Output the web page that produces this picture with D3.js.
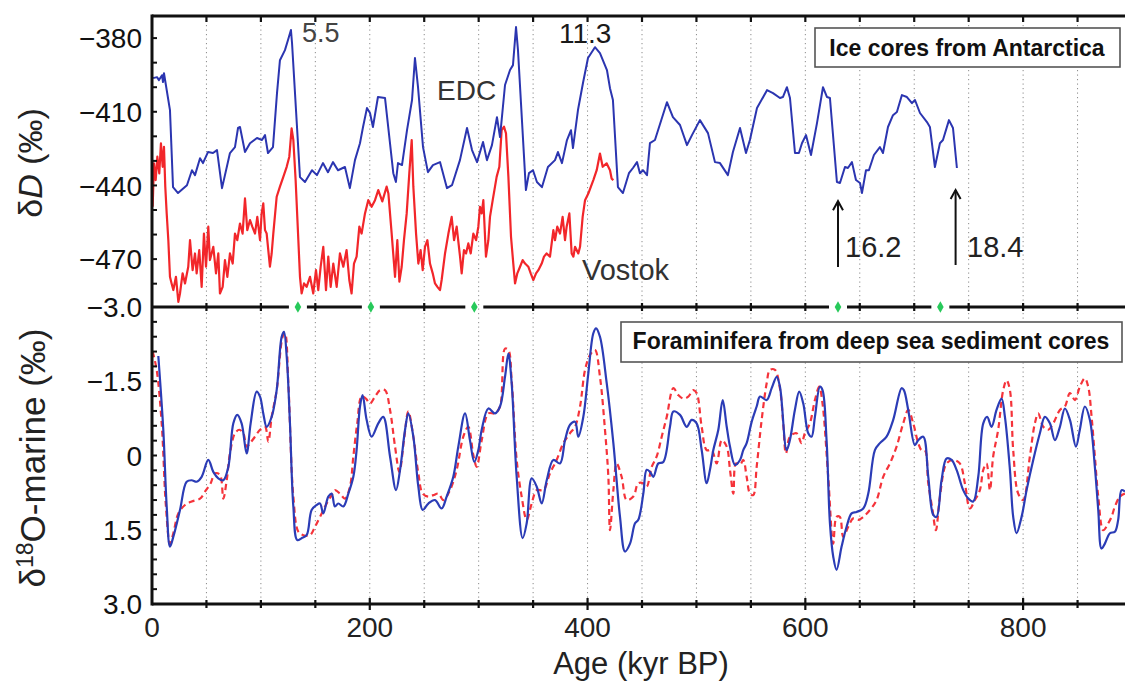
<!DOCTYPE html>
<html><head><meta charset="utf-8">
<script src="https://cdn.jsdelivr.net/npm/d3@7"></script>
<style>html,body{margin:0;padding:0;background:#fff;overflow:hidden}</style>
</head><body><svg id="c" width="1125" height="681"></svg>
<script>
// ---------- DATA ----------
const ageTicks = [0, 200, 400, 600, 800];
const topTicks = [-380, -410, -440, -470];
const botTicks = [-3, -1.5, 0, 1.5, 3];
const botTickLabels = ["\u22123.0", "\u22121.5", "0", "1.5", "3.0"];
const markerAges = [134, 201, 296, 630, 724];

// EDC deuterium (age kyr, δD ‰)
const edc = [[1,-396.3],[4.6,-395.9],[6.4,-397.1],[9.2,-395.1],[10.1,-397.9],[11,-394.3],[16.5,-409.3],[19.3,-440.7],[23.9,-443.1],[32.1,-439.9],[36.7,-433.8],[39.5,-435.8],[44.1,-428.9],[46.8,-430.9],[51.4,-426.4],[56,-426.8],[59.7,-425.6],[64.3,-441.1],[71.6,-426.8],[76.2,-424.4],[79,-416.6],[80.8,-416.2],[85.4,-426.4],[90,-422.8],[96.4,-420.7],[101,-421.5],[103.8,-419.5],[106.5,-426.8],[111.1,-424.4],[114.8,-402.4],[117.5,-389],[122.1,-384.9],[124.9,-380.8],[127.6,-376.7],[128.6,-382],[135.9,-436.6],[140.5,-438.6],[146.9,-433.8],[151.5,-435.8],[157,-430.9],[161.6,-434.6],[166.2,-430.5],[170.8,-433.8],[177.2,-432.5],[181.7,-441.1],[186.4,-429.7],[191,-422.8],[193.8,-416.2],[197.4,-408.5],[200.2,-410.5],[202.9,-416.2],[207.5,-404],[214,-404.4],[221.6,-435],[224,-438.6],[225.9,-430.9],[229.6,-431.7],[234.2,-417.5],[238.8,-405.2],[241.5,-388.1],[244.3,-400],[248.9,-424.4],[253.4,-434.6],[258,-431.7],[264.5,-430.5],[270.9,-441.1],[275.5,-439.9],[282.8,-429.7],[289.3,-416.6],[293.9,-425.6],[298.5,-430.5],[304,-422.3],[307.6,-429.7],[312.2,-423.6],[316.8,-412.2],[319.6,-420.3],[324.2,-399.1],[328.8,-393],[331.5,-391],[334.3,-375.5],[336.1,-384.9],[343.4,-441.9],[346.2,-435],[349.9,-433.8],[353.5,-438.6],[358.1,-440.7],[363.6,-432.5],[370.1,-429.7],[372.8,-426.4],[376.5,-430.9],[381.1,-421.5],[384.8,-417.5],[386.6,-424.8],[391.2,-409.3],[395.8,-398.3],[400.4,-388.1],[406.8,-383.7],[411.4,-386.1],[417.8,-393],[420.6,-400.4],[423.3,-405.2],[427.9,-440.7],[432.5,-443.1],[438,-435],[441.7,-432.9],[445.4,-430.5],[448.1,-435],[450.9,-433.8],[454.6,-435.8],[457.3,-422.8],[461.9,-421.5],[472.9,-406.1],[478.4,-412.2],[484.9,-415.4],[491.3,-423.6],[495.9,-419.5],[503.2,-413.4],[510.6,-418.7],[517,-430.5],[521.6,-430.9],[528.9,-435.8],[533.5,-426.4],[540,-416.6],[545.5,-426.8],[549.1,-421.5],[555.6,-408.5],[564.8,-401.2],[570.3,-402.4],[576.7,-404.4],[579.4,-404],[583.1,-400],[585.9,-404.4],[590.5,-426.8],[594.1,-426.8],[596.9,-422.8],[600.6,-419.5],[605.2,-427.6],[610.7,-414.6],[616.2,-400],[619.9,-404],[622.6,-404.4],[629,-438.6],[631.8,-439],[636.4,-432.5],[639.1,-432.9],[642.8,-430.5],[646.5,-437.8],[650.2,-439],[652,-443.1],[655.7,-433.8],[658.4,-433.8],[663,-427.6],[668.5,-424.4],[671.3,-426.8],[675.9,-416.2],[680.5,-411.4],[684.1,-410.1],[688.7,-403.2],[693.3,-404],[697.9,-406.5],[700.7,-405.2],[705.3,-410.5],[711.7,-414.2],[714.4,-416.2],[719,-432.5],[723.6,-422.8],[726.4,-421.5],[731.9,-413.4],[735.6,-416.6],[739.2,-432.9]];

// Vostok deuterium (age kyr, δD ‰)
const vostok = [[0.6,-448.7],[1.8,-431.0],[3.4,-437.8],[4.9,-428.3],[6.7,-435.1],[8.2,-422.9],[9.8,-432.4],[11.0,-424.3],[12.2,-440.5],[13.5,-451.4],[15.0,-462.3],[16.5,-477.2],[18.0,-479.9],[19.6,-482.6],[22.0,-477.2],[24.2,-487.4],[25.7,-484.0],[28.1,-475.8],[30.3,-479.9],[33.3,-473.1],[34.9,-462.3],[37.3,-474.5],[39.5,-467.7],[41.0,-475.8],[43.4,-466.3],[45.6,-481.3],[47.7,-459.6],[49.6,-473.1],[51.7,-456.8],[53.2,-470.4],[56.3,-465.0],[58.8,-475.8],[60.9,-467.7],[62.4,-484.0],[64.9,-481.3],[67.0,-470.4],[69.2,-477.2],[71.6,-467.7],[74.1,-471.8],[76.2,-459.6],[78.3,-462.3],[80.8,-455.5],[83.2,-459.6],[85.4,-445.3],[87.5,-458.2],[90.0,-454.1],[92.1,-456.8],[94.6,-459.6],[96.7,-452.8],[99.2,-462.3],[100.7,-451.4],[102.2,-447.3],[103.8,-458.2],[105.3,-459.6],[108.3,-473.1],[109.9,-467.7],[111.4,-459.6],[114.5,-444.6],[117.5,-440.5],[120.6,-436.5],[123.7,-432.4],[126.1,-428.3],[128.2,-416.8],[129.8,-421.5],[131.9,-437.8],[134.4,-462.3],[135.9,-477.2],[137.4,-484.0],[139.6,-479.9],[142.0,-481.3],[145.1,-477.2],[148.1,-484.0],[150.6,-474.5],[152.7,-482.6],[154.9,-473.1],[157.3,-465.0],[159.8,-482.6],[161.9,-469.0],[164.1,-481.3],[166.5,-471.8],[169.6,-481.3],[172.6,-467.7],[175.7,-473.1],[178.7,-466.3],[181.2,-478.5],[183.3,-484.0],[185.5,-471.8],[187.9,-469.0],[190.4,-456.8],[192.5,-459.6],[195.6,-451.4],[198.6,-446.0],[201.7,-448.7],[204.8,-446.0],[207.8,-441.9],[211.5,-446.5],[215.5,-440.5],[217.1,-443.3],[220.1,-459.6],[223.2,-477.2],[225.3,-462.3],[227.2,-479.2],[229.3,-473.1],[231.4,-462.3],[233.9,-451.4],[236.3,-435.1],[238.5,-421.5],[240.0,-440.5],[242.5,-459.6],[244.6,-471.8],[246.7,-466.3],[248.6,-474.5],[250.7,-465.0],[252.9,-462.3],[255.3,-471.8],[257.8,-475.8],[259.9,-479.9],[262.1,-481.3],[264.5,-482.6],[266.0,-478.5],[269.1,-467.7],[272.2,-459.6],[275.2,-452.8],[277.4,-462.3],[279.8,-456.8],[282.9,-469.0],[284.4,-475.8],[286.5,-466.3],[288.4,-467.7],[290.5,-463.6],[292.7,-467.7],[295.1,-459.6],[297.6,-462.3],[299.7,-456.8],[301.2,-448.7],[302.8,-451.4],[304.3,-446.0],[306.7,-469.0],[308.9,-462.3],[310.4,-452.8],[312.9,-446.0],[315.0,-440.5],[316.5,-436.5],[319.0,-432.4],[321.1,-417.5],[323.3,-416.1],[325.1,-418.8],[327.3,-436.5],[329.7,-460.9],[331.8,-471.8],[333.4,-479.9],[335.5,-475.8],[338.0,-473.1],[340.4,-470.4],[342.6,-471.8],[345.6,-473.1],[347.8,-475.8],[350.2,-478.5],[352.7,-475.8],[354.8,-474.5],[357.9,-471.8],[360.0,-469.0],[362.4,-467.7],[365.5,-469.0],[368.6,-458.2],[370.1,-462.3],[372.2,-456.8],[374.7,-459.6],[377.1,-452.8],[379.3,-462.3],[380.8,-456.8],[383.3,-451.4],[385.4,-467.7],[387.0,-469.0],[388.5,-465.0],[391.5,-467.7],[393.1,-465.0],[395.5,-452.8],[397.7,-446.0],[400.7,-443.3],[405.3,-437.8],[408.4,-433.8],[411.4,-427.0],[413.9,-432.4],[417.5,-431.0],[420.6,-433.8],[422.1,-437.2],[423.7,-437.8]];

// Marine δ18O, solid blue (age kyr, ‰)
const marineBlue = [[5.8,-2.01],[10.4,-0.51],[13.5,1.03],[16.5,1.84],[19.6,1.64],[25.7,1.10],[31.8,0.53],[36.4,0.50],[41.0,0.53],[45.6,0.43],[51.7,0.09],[56.3,0.33],[60.9,0.46],[65.5,0.50],[70.1,0.23],[74.7,-0.65],[78.3,-0.82],[82.3,-0.65],[86.9,-0.04],[90.6,-0.65],[96.1,-1.29],[99.2,-1.19],[102.2,-0.85],[105.3,-0.58],[109.9,-0.78],[114.5,-1.32],[119.1,-2.40],[121.2,-2.50],[123.7,-2.00],[126.7,-0.65],[129.8,1.03],[133.4,1.71],[137.4,1.67],[142.0,1.61],[146.6,1.10],[151.2,1.00],[154.3,0.97],[157.3,1.17],[161.9,0.83],[165.0,0.77],[168.0,1.03],[171.1,0.97],[175.7,1.03],[180.3,0.77],[184.9,0.43],[187.9,-0.11],[191.0,-0.99],[193.4,-1.22],[197.1,-0.72],[201.7,-0.38],[207.8,-0.65],[212.4,-0.78],[218.6,0.02],[224.1,0.70],[227.8,0.29],[232.4,-0.52],[235.4,-0.85],[240.0,-0.38],[244.6,0.63],[248.6,1.10],[253.8,0.97],[259.9,0.90],[266.0,1.07],[270.6,0.83],[276.7,0.43],[281.3,-0.18],[287.5,-0.85],[292.0,-0.31],[296.0,0.13],[299.7,-0.11],[302.8,-0.52],[308.9,-0.95],[315.0,-0.85],[319.6,-0.99],[324.2,-1.59],[327.3,-2.06],[330.3,-1.46],[334.9,0.43],[340.4,1.67],[344.1,1.37],[348.7,0.46],[353.3,0.63],[357.9,0.97],[362.5,0.50],[368.6,0.09],[374.7,0.16],[379.3,-0.31],[383.9,-0.62],[388.5,-0.68],[391.5,-0.38],[396.1,-0.78],[400.7,-1.66],[405.3,-2.47],[407.8,-2.57],[411.4,-2.40],[417.6,-1.46],[423.7,-0.25],[429.8,1.24],[434.4,1.94],[439.0,1.78],[443.6,1.37],[446.6,1.30],[451.2,0.77],[454.3,0.29],[457.3,0.33],[460.4,0.43],[465.0,0.16],[469.6,0.13],[475.7,-0.58],[478.8,-0.89],[484.9,-0.82],[491.0,-0.58],[495.6,-0.72],[500.2,-0.65],[504.8,-0.11],[509.4,0.56],[512.4,0.29],[515.5,-0.11],[520.1,-0.52],[524.1,-1.12],[527.8,-0.58],[530.8,-0.18],[535.4,0.19],[540.0,0.09],[543.0,-0.11],[546.1,-0.25],[550.7,-0.68],[555.3,-0.99],[558.4,-1.19],[564.5,-1.12],[569.1,-1.36],[573.7,-1.59],[576.7,-1.39],[582.8,-0.11],[585.8,-0.31],[590.4,-0.92],[594.4,-1.29],[598.1,-1.05],[602.7,-0.45],[605.7,-0.38],[608.8,-0.78],[613.4,-1.39],[615.8,-1.32],[619.5,-0.31],[622.6,1.37],[625.6,2.04],[628.7,2.31],[633.3,1.84],[637.9,1.44],[642.5,1.17],[647.1,1.14],[653.2,1.07],[657.8,0.77],[663.9,-0.11],[668.5,-0.25],[674.6,-0.38],[680.7,-0.72],[688.4,-1.36],[690.5,-1.32],[694.5,-0.92],[700.6,-0.21],[703.7,-0.31],[708.3,-0.38],[712.9,0.43],[717.5,1.20],[720.5,1.24],[725.1,0.50],[729.7,0.06],[734.3,0.09],[738.9,0.29],[745.0,0.70],[749.6,0.87],[754.2,0.93],[758.8,0.43],[763.4,-0.65],[767.0,-0.78],[771.0,-0.58],[775.6,-0.92],[780.2,-1.15],[783.3,-0.78],[787.9,0.29],[790.9,1.24],[794.0,1.57],[798.6,1.24],[803.2,0.70],[809.3,0.09],[815.4,-0.45],[820.0,-0.78],[824.6,-0.65],[829.2,-0.31],[833.8,-0.58],[838.4,-0.95],[843.0,-0.72],[848.5,-0.18],[852.1,-0.52],[856.7,-0.99],[861.3,-0.72],[865.9,0.23],[869.0,1.10],[872.0,1.88],[875.1,1.78],[879.7,1.57],[884.3,1.54],[887.3,1.30],[890.4,0.70],[893.5,0.73]];

// Marine δ18O, dashed red (age kyr, ‰)
const marineRed = [[0.6,-2.10],[4.3,-1.73],[8.9,-0.65],[12.8,1.03],[16.5,1.78],[19.6,1.57],[24.2,1.17],[30.3,1.00],[36.4,0.93],[44.1,0.87],[49.6,0.70],[53.9,0.56],[57.8,0.36],[62.4,0.39],[65.5,0.87],[68.6,0.50],[71.6,-0.04],[76.2,-0.45],[80.2,-0.52],[83.9,-0.45],[86.9,-0.18],[90.0,-0.25],[94.6,-0.38],[99.2,-0.52],[103.8,-0.58],[106.8,-0.28],[109.9,-0.78],[114.5,-1.32],[120.0,-2.40],[122.1,-2.47],[125.2,-1.46],[129.8,0.83],[134.4,1.54],[139.0,1.61],[145.1,1.61],[149.7,1.44],[154.3,1.24],[160.4,0.97],[165.0,0.80],[168.0,0.70],[172.6,0.77],[177.2,0.87],[181.8,0.63],[184.9,0.02],[188.5,-0.65],[192.5,-1.19],[196.5,-1.15],[200.2,-1.05],[204.8,-1.19],[209.4,-1.32],[214.0,-1.32],[218.6,-0.92],[223.2,-0.18],[227.2,0.33],[231.4,-0.31],[235.4,-0.89],[240.0,-0.38],[244.6,0.36],[248.6,0.77],[253.8,0.83],[258.4,0.80],[263.0,0.77],[267.6,0.90],[273.7,0.70],[279.8,0.29],[285.9,-0.38],[290.5,-0.58],[295.1,-0.01],[298.2,0.23],[302.8,-0.31],[308.9,-0.85],[315.0,-0.85],[319.6,-0.99],[324.2,-2.16],[327.3,-2.13],[330.3,-1.52],[334.9,0.09],[339.5,0.83],[344.1,1.30],[348.7,0.97],[353.3,0.70],[359.4,0.70],[365.5,0.36],[371.6,0.09],[377.8,-0.25],[383.9,-0.45],[388.5,-0.58],[393.1,-0.99],[397.7,-1.73],[402.2,-2.03],[406.8,-2.13],[411.4,-1.59],[416.0,-0.52],[419.1,0.43],[420.6,1.51],[423.7,0.70],[426.7,0.16],[431.3,0.43],[435.9,0.90],[442.0,0.83],[446.6,0.56],[451.2,0.56],[454.3,0.63],[458.9,0.23],[463.5,0.02],[468.1,-0.38],[472.7,-0.78],[478.8,-1.36],[483.4,-1.22],[488.0,-1.15],[492.5,-1.19],[497.1,-1.32],[500.2,-1.26],[504.8,-0.58],[509.4,-0.11],[514.0,-0.11],[518.6,0.16],[523.2,-0.31],[527.8,-0.18],[530.8,0.29],[533.9,0.77],[536.3,0.16],[540.0,0.19],[543.0,0.09],[546.1,0.43],[549.2,0.77],[552.2,0.80],[555.3,0.23],[559.9,-0.72],[564.5,-1.46],[567.5,-1.73],[572.1,-1.73],[576.7,-1.35],[579.7,-0.65],[582.2,-0.04],[585.8,-0.38],[592.0,-0.45],[596.5,-0.25],[599.6,-0.45],[604.2,-0.65],[608.8,-1.12],[612.8,-1.39],[615.8,-1.05],[621.0,0.43],[625.6,1.78],[628.7,1.24],[631.7,1.24],[634.8,1.64],[639.4,1.44],[644.0,1.27],[648.6,1.30],[653.2,1.24],[659.3,1.10],[665.4,0.90],[671.5,0.43],[677.7,0.16],[683.8,-0.18],[689.9,-0.65],[694.5,-0.92],[699.1,-0.65],[703.7,-0.25],[706.7,-0.11],[709.8,-0.11],[712.9,0.56],[716.8,1.10],[719.9,1.51],[723.6,0.83],[729.7,0.16],[735.8,0.09],[741.9,0.16],[746.5,0.56],[751.1,1.07],[755.7,0.90],[760.3,0.70],[763.4,0.29],[766.4,0.16],[769.5,0.70],[772.5,0.02],[777.1,-0.52],[781.7,-1.32],[784.8,-1.52],[787.9,-1.32],[790.9,-0.11],[795.5,0.77],[800.1,0.90],[806.2,0.02],[810.8,-0.65],[813.9,-0.85],[818.5,-0.58],[823.1,-0.52],[827.7,-0.65],[833.8,-0.92],[838.4,-0.99],[843.0,-1.26],[847.6,-1.12],[852.1,-1.39],[856.7,-1.56],[859.8,-1.39],[862.9,-0.78],[865.9,0.02],[869.0,0.83],[873.6,1.51],[878.2,1.37],[881.2,1.24],[884.3,1.03],[888.9,0.83],[893.5,0.77]];

// ---------- DRAW ----------
const FONT = "'Liberation Sans', Arial, Helvetica, sans-serif";
const svg = d3.select("#c").style("font-family", FONT);
const L = 152, R = 1125, T = 16, M = 307, B = 604;
const x = d3.scaleLinear().domain([0, 900]).range([L, 1132]);
const yTop = d3.scaleLinear().domain([-489.5, -371]).range([M, T]);
const yBot = d3.scaleLinear().domain([-3, 3]).range([M, B]);

const defs = svg.append("defs");
defs.append("clipPath").attr("id", "clipTop").append("rect").attr("x", L).attr("y", T).attr("width", R - L).attr("height", M - T);
defs.append("clipPath").attr("id", "clipBot").append("rect").attr("x", L).attr("y", M).attr("width", R - L).attr("height", B - M);

// dotted grid
const gridAges = d3.range(50, 900, 50);
svg.append("g").selectAll("line").data(gridAges).join("line")
  .attr("x1", d => x(d)).attr("x2", d => x(d)).attr("y1", T).attr("y2", B)
  .attr("stroke", "#8a8a8a").attr("stroke-width", 1).attr("stroke-dasharray", "1.2,3.3");

// top panel series
const lineTop = d3.line().x(d => x(d[0])).y(d => yTop(d[1]));
const gTop = svg.append("g").attr("clip-path", "url(#clipTop)");
gTop.append("path").datum(vostok).attr("d", lineTop).attr("fill", "none").attr("stroke", "#f2262a").attr("stroke-width", 2.2).attr("stroke-linejoin", "round");
gTop.append("path").datum(edc).attr("d", lineTop).attr("fill", "none").attr("stroke", "#2b35b0").attr("stroke-width", 2).attr("stroke-linejoin", "round");

// bottom panel series
const lineBot = d3.line().x(d => x(d[0])).y(d => yBot(d[1])).curve(d3.curveCatmullRom.alpha(0.5));
const gBot = svg.append("g").attr("clip-path", "url(#clipBot)");
gBot.append("path").datum(marineRed).attr("d", lineBot).attr("fill", "none").attr("stroke", "#f5333a").attr("stroke-width", 2.2).attr("stroke-dasharray", "6,4");
gBot.append("path").datum(marineBlue).attr("d", lineBot).attr("fill", "none").attr("stroke", "#2b3cb6").attr("stroke-width", 2.2);

// frame lines
const frame = svg.append("g").attr("stroke", "#111").attr("stroke-width", 3);
frame.append("line").attr("x1", L).attr("x2", R).attr("y1", T).attr("y2", T);
frame.append("line").attr("x1", L).attr("x2", R).attr("y1", B).attr("y2", B);
frame.append("line").attr("x1", L).attr("x2", L).attr("y1", T - 1.5).attr("y2", B + 1.5);
// middle line with gaps at markers
const gap = 9;
const bounds = [L];
markerAges.forEach(a => { bounds.push(x(a) - gap, x(a) + gap); });
bounds.push(R);
for (let i = 0; i < bounds.length; i += 2) {
  frame.append("line").attr("x1", bounds[i]).attr("x2", bounds[i + 1]).attr("y1", M).attr("y2", M);
}

// horizontal-axis ticks
const tickAges = d3.range(50, 900, 50);
const tk = svg.append("g").attr("stroke", "#111").attr("stroke-width", 2.2);
tk.selectAll(".tt").data(tickAges).join("line").attr("class", "tt")
  .attr("x1", d => x(d)).attr("x2", d => x(d)).attr("y1", T).attr("y2", T + 6);
tk.selectAll(".tm").data(tickAges.filter(a => markerAges.every(m => Math.abs(x(m) - x(a)) > gap))).join("line").attr("class", "tm")
  .attr("x1", d => x(d)).attr("x2", d => x(d)).attr("y1", M - 4).attr("y2", M + 4);
tk.selectAll(".tb").data(tickAges).join("line").attr("class", "tb")
  .attr("x1", d => x(d)).attr("x2", d => x(d))
  .attr("y1", d => d % 200 === 0 ? B - 6 : B - 4).attr("y2", d => d % 200 === 0 ? B + 6 : B + 4);

// green diamonds
svg.append("g").selectAll("path").data(markerAges).join("path")
  .attr("d", d3.symbol(d3.symbolDiamond, 38))
  .attr("transform", d => `translate(${x(d)},${M})`)
  .attr("fill", "#27c95a");

// left axis ticks (inward) and labels
const lt = svg.append("g").attr("stroke", "#111").attr("stroke-width", 2);
const topMinor = d3.range(-480, -370, 10);
lt.selectAll(".mt").data(topMinor).join("line").attr("class", "mt")
  .attr("x1", L).attr("x2", L + 5).attr("y1", d => yTop(d)).attr("y2", d => yTop(d));
const botMinor = d3.range(-2.7, 3.0, 0.3);
lt.selectAll(".mb").data(botMinor).join("line").attr("class", "mb")
  .attr("x1", L).attr("x2", L + 5).attr("y1", d => yBot(d)).attr("y2", d => yBot(d));

svg.append("g").selectAll("text").data(topTicks).join("text")
  .attr("x", L - 10).attr("y", d => yTop(d)).attr("dy", "0.36em")
  .attr("text-anchor", "end").attr("font-size", 28).attr("fill", "#111")
  .text(d => "\u2212" + Math.abs(d));
svg.append("g").selectAll("text").data(botTicks).join("text")
  .attr("x", L - 10).attr("y", d => yBot(d)).attr("dy", "0.36em")
  .attr("text-anchor", "end").attr("font-size", 28).attr("fill", "#111")
  .text((d, i) => botTickLabels[i]);

// x labels
svg.append("g").selectAll("text").data(ageTicks).join("text")
  .attr("x", d => x(d)).attr("y", 637).attr("text-anchor", "middle")
  .attr("font-size", 28).attr("fill", "#222").text(d => d);
svg.append("text").attr("x", 641).attr("y", 674).attr("text-anchor", "middle")
  .attr("font-size", 31).attr("fill", "#222").text("Age (kyr BP)");

// y titles
const t1 = svg.append("text").attr("transform", "translate(42,163) rotate(-90)")
  .attr("text-anchor", "middle").attr("font-size", 34).attr("fill", "#222");
t1.append("tspan").text("\u03b4");
t1.append("tspan").attr("font-style", "italic").text("D");
t1.append("tspan").text(" (\u2030)");
const t2 = svg.append("text").attr("transform", "translate(45,458) rotate(-90)")
  .attr("text-anchor", "middle").attr("font-size", 35).attr("fill", "#222");
t2.append("tspan").text("\u03b4");
t2.append("tspan").attr("font-size", 23).attr("dy", -12).text("18");
t2.append("tspan").attr("dy", 12).text("O-marine (\u2030)");

// legend boxes
function legendBox(x0, y0, w, h, label, tx, ty) {
  svg.append("rect").attr("x", x0).attr("y", y0).attr("width", w).attr("height", h)
    .attr("fill", "#fff").attr("stroke", "#555").attr("stroke-width", 1.6);
  svg.append("text").attr("x", tx).attr("y", ty).attr("text-anchor", "middle")
    .attr("font-size", 23).attr("font-weight", "bold").attr("fill", "#111").text(label);
}
legendBox(815, 28, 305, 39, "Ice cores from Antarctica", 967, 56);
legendBox(621, 322, 501, 40, "Foraminifera from deep sea sediment cores", 871, 349);

// annotations
const ann = svg.append("g").attr("fill", "#333");
ann.append("text").attr("x", 302).attr("y", 42).attr("font-size", 27).attr("fill", "#444").text("5.5");
ann.append("text").attr("x", 559).attr("y", 43).attr("font-size", 28).attr("fill", "#1a1a1a").text("11.3");
ann.append("text").attr("x", 437).attr("y", 100).attr("font-size", 28).text("EDC");
ann.append("text").attr("x", 582).attr("y", 280).attr("font-size", 29).text("Vostok");
ann.append("text").attr("x", 845).attr("y", 257).attr("font-size", 29).attr("fill", "#222").text("16.2");
ann.append("text").attr("x", 967).attr("y", 257).attr("font-size", 29).attr("fill", "#222").text("18.4");

// arrows
const arrows = [{age: 630, from: -473.2, to: -446.4}, {age: 738, from: -472.4, to: -441.9}];
const ag = svg.append("g").attr("stroke", "#111").attr("stroke-width", 2).attr("fill", "none");
arrows.forEach(a => {
  const ax = x(a.age), y1 = yTop(a.from), y2 = yTop(a.to);
  ag.append("line").attr("x1", ax).attr("x2", ax).attr("y1", y1).attr("y2", y2);
  ag.append("path").attr("d", `M${ax - 5},${y2 + 9} L${ax},${y2} L${ax + 5},${y2 + 9}`);
});
</script></body></html>
